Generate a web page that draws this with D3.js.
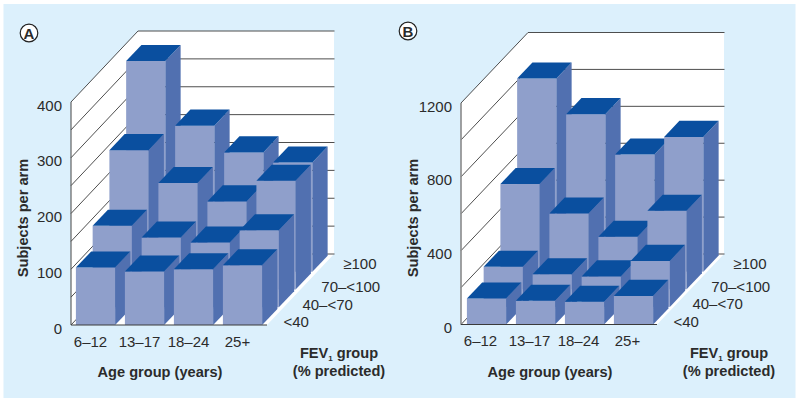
<!DOCTYPE html>
<html>
<head>
<meta charset="utf-8">
<script src="https://cdn.jsdelivr.net/npm/d3@7"></script>
<style>
  html, body { margin: 0; padding: 0; background: #fff; }
  svg { display: block; }
  text { font-family: "Liberation Sans", Arial, sans-serif; fill: #2b2b2b; }
  .title { font-weight: bold; font-size: 14.6px; }
  .tick-label { font-size: 15px; }
</style>
</head>
<body>
<svg class="chart" width="800" height="403"></svg>
<script>
const ageGroups = ["6–12", "13–17", "18–24", "25+"];
const fevGroups = ["<40", "40–<70", "70–<100", "≥100"];

// one row per FEV1 group, front to back
const valuesA = [
  [103, 96, 100, 107],
  [146, 125, 116, 138],
  [250, 191, 158, 195],
  [378, 262, 214, 196]
];
const valuesB = [
  [141, 128, 123, 155],
  [217, 177, 165, 249],
  [570, 410, 284, 425],
  [1046, 853, 634, 730]
];
const ticksA = [0, 100, 200, 300, 400];
const ticksB = [0, 400, 800, 1200];

const colors = {front: "#8f9fcb", side: "#5170b0", top: "#0a4f9f", grid: "#3a3a3a"};

const svg = d3.select(".chart");

svg.append("rect")
  .attr("x", 3.5).attr("y", 4)
  .attr("width", 792).attr("height", 394)
  .attr("fill", "#dcf0fc");

function drawPanel(cfg) {
  const g = svg.append("g");
  const {x0, y0, yTop, dx, dy, w} = cfg;

  const yScale = d3.scaleLinear().domain([0, cfg.max]).range([y0, yTop]);
  const xScale = d3.scaleBand().domain(ageGroups).range([x0 + cfg.barShift, x0 + w + cfg.barShift]).paddingInner(0.2).paddingOuter(0.1);
  const depth = d3.scaleLinear().domain([0, fevGroups.length]).range([0, 1]);

  const offX = i => depth(i) * dx;
  const offY = i => depth(i) * dy;

  // walls + floor
  const pts = a => a.map(p => p.join(",")).join(" ");
  g.append("polygon")
    .attr("fill", "#fff")
    .attr("points", pts([[x0, y0], [x0, yTop], [x0 + dx, yTop - dy], [x0 + dx + w, yTop - dy], [x0 + dx + w, y0 - dy], [x0 + w, y0]]));

  // grid, every half of a labelled step
  const gridVals = d3.range(0, cfg.max + 1, cfg.gridStep);
  g.selectAll("line.back").data(gridVals).enter().append("line")
    .attr("x1", x0 + dx).attr("x2", x0 + dx + w + 0.5)
    .attr("y1", d => yScale(d) - dy).attr("y2", d => yScale(d) - dy)
    .attr("stroke", colors.grid).attr("stroke-width", 0.9);
  g.selectAll("line.wall").data(gridVals).enter().append("line")
    .attr("x1", x0).attr("x2", x0 + dx)
    .attr("y1", d => yScale(d)).attr("y2", d => yScale(d) - dy)
    .attr("stroke", colors.grid).attr("stroke-width", 0.9);

  g.append("line")
    .attr("x1", x0).attr("x2", x0)
    .attr("y1", yTop).attr("y2", y0)
    .attr("stroke", cfg.axisColor).attr("stroke-width", cfg.axisWidth);

  // bars, back row first so the front ones cover them
  const barW = xScale.bandwidth();
  const sideX = barW * 0.39, sideY = barW * 0.41;
  d3.range(fevGroups.length - 1, -1, -1).forEach(r => {
    cfg.values[r].forEach((v, c) => {
      const x = xScale(ageGroups[c]) + offX(r);
      const base = y0 - offY(r);
      const top = yScale(v) - offY(r);
      g.append("rect").attr("x", x).attr("y", top)
        .attr("width", barW).attr("height", base - top)
        .attr("fill", colors.front);
      g.append("polygon").attr("fill", colors.side)
        .attr("points", pts([[x + barW, top], [x + barW + sideX, top - sideY], [x + barW + sideX, base - sideY], [x + barW, base]]));
      g.append("polygon").attr("fill", colors.top)
        .attr("points", pts([[x, top], [x + sideX, top - sideY], [x + barW + sideX, top - sideY], [x + barW, top]]));
    });
  });

  g.append("line")
    .attr("x1", x0).attr("x2", x0 + w)
    .attr("y1", y0).attr("y2", y0)
    .attr("stroke", colors.grid).attr("stroke-width", 1);

  // axes
  const yAxis = d3.axisLeft(yScale).tickValues(cfg.ticks).tickSize(0).tickPadding(9).tickFormat(d3.format("d"));
  const yG = g.append("g").attr("transform", `translate(${x0},-1)`).call(yAxis);
  yG.select(".domain").remove();
  yG.selectAll("text").attr("class", "tick-label").attr("dy", "0.6em").attr("fill", null);

  const xAxis = d3.axisBottom(xScale).tickSize(0).tickPadding(11);
  const xG = g.append("g").attr("transform", `translate(${-5 - cfg.barShift},${y0})`).call(xAxis);
  xG.select(".domain").remove();
  xG.selectAll("text").attr("class", "tick-label").attr("fill", null);

  // FEV1 labels follow the floor edge, a bit wider than the bars
  g.selectAll("text.fev").data(fevGroups).enter().append("text")
    .attr("class", "tick-label")
    .attr("x", (d, i) => x0 + w + 16.5 + offX(i) * 1.13 + (i === 3 ? 3 : 0))
    .attr("y", (d, i) => y0 - 3 - offY(i) + (i === 3 ? -5 : 0))
    .attr("dy", "0.35em")
    .text(d => d);

  // titles
  g.append("text").attr("class", "title")
    .attr("transform", `translate(${cfg.titleX},${218}) rotate(-90)`)
    .attr("text-anchor", "middle").text("Subjects per arm");
  g.append("text").attr("class", "title")
    .attr("x", x0 + 89).attr("y", 377)
    .attr("text-anchor", "middle").text("Age group (years)");

  const fev = g.append("text").attr("class", "title")
    .attr("x", x0 + w + 72).attr("y", 358).attr("text-anchor", "middle");
  fev.append("tspan").text("FEV");
  fev.append("tspan").attr("font-size", 8).attr("dy", 3).text("1");
  fev.append("tspan").attr("dy", -3).text(" group");
  g.append("text").attr("class", "title")
    .attr("x", x0 + w + 72).attr("y", 376)
    .attr("text-anchor", "middle").text("(% predicted)");

  // panel letter
  g.append("circle").attr("cx", cfg.letterX).attr("cy", cfg.letterY).attr("r", 8.8)
    .attr("fill", "#fff").attr("stroke", "#222").attr("stroke-width", 1.2);
  g.append("text").attr("x", cfg.letterX).attr("y", cfg.letterY + 0.5)
    .attr("text-anchor", "middle").attr("dy", "0.36em")
    .attr("font-size", 15).attr("font-weight", "bold").text(cfg.letter);
}

drawPanel({
  letter: "A", letterX: 29, letterY: 33,
  x0: 71, y0: 325, yTop: 102, dx: 67, dy: 71, w: 196, barShift: 0,
  max: 400, gridStep: 50, ticks: ticksA, values: valuesA,
  titleX: 28, axisColor: "#444", axisWidth: 1
});
drawPanel({
  letter: "B", letterX: 408, letterY: 31,
  x0: 461, y0: 324.5, yTop: 103, dx: 67, dy: 70.5, w: 196, barShift: 1,
  max: 1200, gridStep: 200, ticks: ticksB, values: valuesB,
  titleX: 418, axisColor: "#8a8a8a", axisWidth: 1.6
});
</script>
</body>
</html>
